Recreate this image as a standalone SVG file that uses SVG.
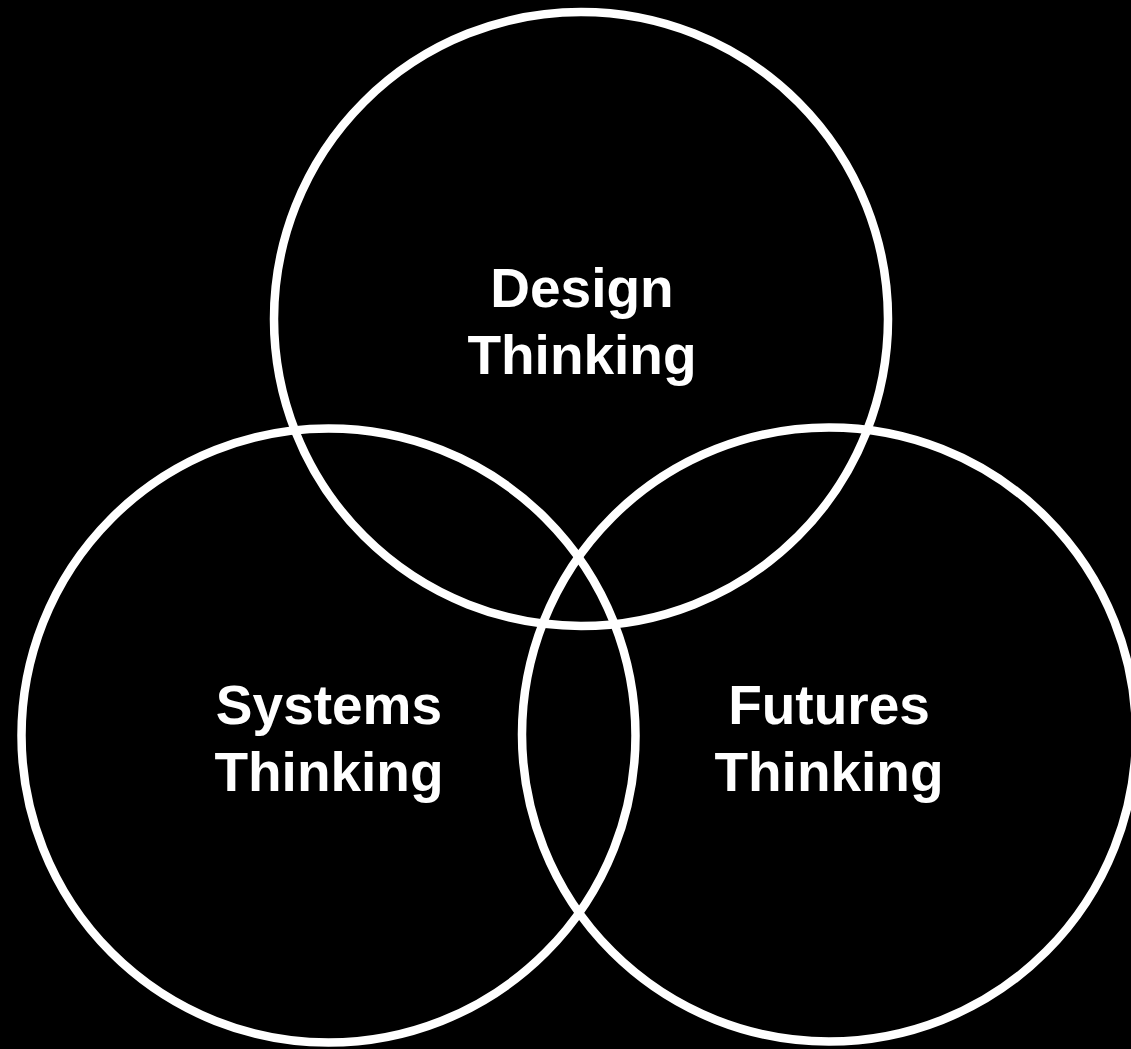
<svg xmlns="http://www.w3.org/2000/svg" width="1131" height="1049" viewBox="0 0 1131 1049">
<style>
.c{fill:none;stroke:#fff;stroke-width:8.5}
.t{fill:#fff;font-family:"Liberation Sans",Arial,sans-serif;font-weight:bold;font-size:55px;text-anchor:middle}
</style>
<rect width="1131" height="1049" fill="#000"/>
<g id="design">
<circle class="c" cx="581" cy="319" r="307"/>
<text class="t" x="582" y="307">Design</text>
<text class="t" x="582" y="374">Thinking</text>
</g>
<g id="systems">
<circle class="c" cx="328.5" cy="735.5" r="307"/>
<text class="t" x="329" y="724">Systems</text>
<text class="t" x="329" y="791">Thinking</text>
</g>
<g id="futures">
<circle class="c" cx="829" cy="734.5" r="307"/>
<text class="t" x="829" y="724">Futures</text>
<text class="t" x="829" y="791">Thinking</text>
</g>
<g id="connectors"></g>
</svg>
